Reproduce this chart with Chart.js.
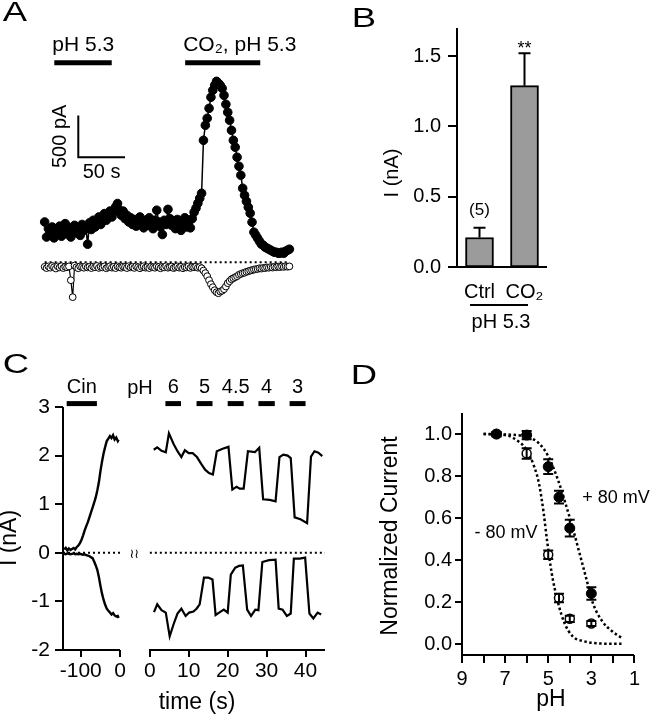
<!DOCTYPE html>
<html>
<head>
<meta charset="utf-8">
<script src="https://cdn.jsdelivr.net/npm/chart.js@4.4.1/dist/chart.umd.min.js"></script>
<style>
  body { margin: 0; background: #fff; width: 652px; height: 720px; position: relative; overflow: hidden;
         font-family: 'Liberation Sans', 'DejaVu Sans', Arial, sans-serif; color: #000; }
  canvas { position: absolute; }
  .t { position: absolute; white-space: nowrap; line-height: 1; }
  .rule { position: absolute; background: #000; z-index: 5; }
</style>
</head>
<body>
<canvas id="chartA" width="330" height="320" style="left:0;top:0"></canvas>
<canvas id="chartB" width="322" height="340" style="left:330px;top:0"></canvas>
<canvas id="chartCL" width="135" height="350" style="left:0;top:370px"></canvas>
<canvas id="chartCR" width="200" height="350" style="left:135px;top:370px"></canvas>
<canvas id="chartD" width="322" height="380" style="left:330px;top:340px"></canvas>
<div class="rule" style="left:470px;top:304px;width:58px;height:2px"></div>
<script>
// ---- panel A: current vs time (s), pA ----
const aTime = [0,2,4,6,8,10,12,14,16,18,20,22,24,26,28,30,32,34,36,38,
  40,42,44,46,48,50,52,54,56,58,60,62,64,66,68,70,72,74,76,78,
  80,82,84,86,88,90,92,94,96,98,100,102,104,106,108,110,112,114,116,118,
  120,122,124,126,128,130,132,134,136,138,140,142,144,146,148,150,152,154,156,158,
  160,162,164,166,168,170,172,174,176,178,180,182,184,186,188,190,192,194,196,198,
  200,202,204,206,208,210,212,214,216,218,220,222,224,226,228,230,232,234,236,238,
  240,242,244,246,248,250,252,254,256,258,260,262];
const aFilled = [480,300,400,330,420,290,380,350,430,310,390,460,340,410,300,370,440,350,400,320,
  450,380,420,215,470,390,500,420,470,540,450,520,580,500,560,610,540,600,660,700,
  620,560,610,520,560,480,530,450,510,430,490,540,460,410,500,440,530,470,400,500,
  620,480,420,330,500,450,630,520,440,490,400,510,460,380,480,530,420,470,410,520,
  596,644,703,763,822,1454,1633,1716,1835,1967,2050,2110,2157,2134,2110,2074,1990,1883,1788,1693,
  1573,1454,1371,1252,1144,1037,882,799,727,656,584,477,358,322,286,250,215,203,179,167,
  155,143,131,119,119,107,107,119,107,131,143,155];
const aOpen = [-55,-70,-50,-65,-45,-60,-75,-50,-62,-48,-70,-55,-60,-50,-215,-417,-40,-60,-72,-50,
  -58,-66,-48,-62,-55,-70,-52,-60,-45,-68,-55,-62,-50,-72,-58,-48,-65,-55,-70,-50,
  -60,-66,-52,-58,-70,-48,-62,-55,-68,-50,-60,-72,-55,-48,-65,-58,-70,-52,-60,-66,
  -50,-58,-72,-55,-62,-48,-66,-58,-52,-70,-60,-50,-65,-55,-72,-58,-62,-50,-68,-55,
  -60,-52,-66,-58,-72,-100,-130,-167,-215,-262,-298,-334,-358,-370,-350,-340,-322,-290,-250,-226,
  -203,-191,-179,-167,-150,-140,-131,-125,-115,-108,-100,-95,-88,-84,-80,-72,-76,-68,-70,-62,
  -66,-58,-64,-55,-60,-52,-58,-50,-56,-48,-54,-50];
const aStim = [[10.3, 71.8], [150.4, 230.8]];
const aStimLabels = ['pH 5.3', 'CO\u2082, pH 5.3'];
const aStimLevel = 2380;
const aScaleT = [36, 86];      // 50 s
const aScaleI = [1251, 1751];  // 500 pA

// ---- panel B: bar chart ----
const bCats = ['Ctrl', 'CO\u2082'];
const bPos = [1, 2];
const bVals = [0.21, 1.29];
const bErr = [0.07, 0.23];
const bNotes = ['(5)', '**'];
const bTicks = [0, 0.5, 1.0, 1.5];

// ---- panel C: current traces (nA) ----
const cLeftTime = [-142,-138,-134,-130,-126,-122,-118,-114,-110,-106,-102,-98,-94,-90,-86,-82,-78,-74,
  -70,-66,-62,-58,-54,-50,-46,-42,-38,-34,-30,-26,-22,-18,-14,-10,-6,-4];
const cLeftUp = [0.07,0.10,0.05,0.09,0.06,0.08,0.10,0.07,0.12,0.15,0.20,0.27,0.36,0.46,0.55,0.63,0.73,0.83,
  0.93,1.03,1.14,1.28,1.45,1.68,1.88,2.05,2.18,2.30,2.35,2.40,2.36,2.42,2.33,2.37,2.30,2.33];
const cLeftDown = [-0.02,-0.03,-0.01,-0.02,-0.03,-0.02,-0.01,-0.03,-0.02,-0.03,-0.02,-0.03,-0.04,-0.03,-0.05,-0.06,-0.07,-0.09,
  -0.11,-0.18,-0.26,-0.35,-0.50,-0.68,-0.84,-0.97,-1.07,-1.15,-1.19,-1.23,-1.27,-1.24,-1.29,-1.31,-1.30,-1.34];
const cRightUpTime = [1.0,1.9,3.0,4.1,4.9,6.1,7.1,8.1,9.0,10.0,11.0,12.1,13.2,14.2,15.2,16.2,17.2,18.7,20.2,21.2,
  22.3,23.1,24.1,25.2,27.0,28.1,29.1,30.8,32.3,33.3,34.3,35.4,36.2,37.2,38.7,40.4,41.4,42.3,43.3,44.3];
const cRightUp = [2.12,2.17,2.10,2.07,2.46,2.24,2.09,1.97,2.11,2.05,2.05,1.97,1.83,1.71,1.64,1.61,2.09,2.14,2.18,1.30,
  1.36,1.32,1.32,2.09,2.07,2.16,1.10,1.09,1.06,1.97,2.02,2.00,1.95,0.73,0.69,0.61,1.98,2.09,2.06,1.99];
const cRightDownTime = [1.07,1.9,3.0,4.1,5.1,6.1,7.1,8.1,9.2,10.1,11.2,12.0,12.8,13.9,15.0,16.1,16.9,18.0,19.0,20.0,
  20.8,21.9,22.9,23.9,25.0,26.0,27.1,27.9,28.9,30.6,32.3,33.1,34.1,35.2,36.2,37.0,38.5,39.9,41.0,42.0,43.1,44.0];
const cRightDown = [-1.22,-1.06,-1.18,-1.23,-1.72,-1.47,-1.25,-1.15,-1.30,-1.23,-1.21,-1.15,-1.06,-0.51,-0.51,-0.55,-1.28,-1.22,-1.17,-1.23,
  -0.45,-0.31,-0.27,-0.26,-1.17,-1.30,-1.17,-1.18,-0.19,-0.15,-0.14,-1.15,-1.17,-1.30,-1.25,-0.12,-0.12,-0.10,-1.25,-1.35,-1.23,-1.27];
const cCinStim = [-135.7, -59];
const cPHStim = [[4, 8], [12, 16.1], [20, 24.1], [27.9, 32.1], [35.9, 40]];
const cPHLabels = ['6', '5', '4.5', '4', '3'];
const cStimLevel = 3.07;
const cYTicks = [-2, -1, 0, 1, 2, 3];
const cLeftXTicks = [-100, 0];
const cRightXTicks = [0, 10, 20, 30, 40];

// ---- panel D: dose response ----
const dPH = [7.4, 6, 5, 4.5, 4, 3];
const dPos = [1.0, 0.995, 0.845, 0.70, 0.553, 0.242];
const dPosErr = [0.01, 0.02, 0.035, 0.03, 0.04, 0.03];
const dNeg = [1.0, 0.908, 0.426, 0.221, 0.122, 0.10];
const dNegErr = [0.01, 0.025, 0.02, 0.02, 0.015, 0.012];
const dFitPosPH = [8.0, 7.0, 6.0, 5.43, 4.99, 4.54, 4.25, 3.88, 3.51, 3.22, 2.93, 2.49, 2.04, 1.6];
const dFitPos = [1.0, 0.998, 0.987, 0.956, 0.893, 0.78, 0.687, 0.56, 0.419, 0.308, 0.197, 0.11, 0.063, 0.032];
const dFitNegPH = [8.0, 7.0, 6.6, 6.0, 5.65, 5.43, 5.21, 5.06, 4.84, 4.54, 4.25, 3.88, 3.37, 2.63, 1.6];
const dFitNeg = [1.0, 0.995, 0.98, 0.924, 0.845, 0.766, 0.624, 0.498, 0.34, 0.197, 0.103, 0.04, 0.016, 0.005, 0.003];
const dYTicks = [0, 0.2, 0.4, 0.6, 0.8, 1.0];
const dXTicks = [9, 8, 7, 6, 5, 4, 3, 2, 1];

const FONT = "'Liberation Sans', 'DejaVu Sans', Arial, sans-serif";
Chart.defaults.font.family = FONT;
Chart.defaults.color = '#000';
Chart.defaults.animation = false;
Chart.defaults.responsive = false;
Chart.defaults.devicePixelRatio = 1;
Chart.defaults.events = [];
Chart.defaults.plugins.legend.display = false;
Chart.defaults.plugins.tooltip.enabled = false;

const pts = (xs, ys) => xs.map((x, i) => ({x, y: ys[i]}));

// scale without built-in grid/border; the axis line and ticks are placed from the scales afterwards
function axis(o) {
  return {
    type: 'linear', min: o.min, max: o.max, reverse: !!o.reverse, display: o.display !== false, offset: false,
    border: {display: false},
    grid: {display: false, drawTicks: false},
    ticks: {font: {size: o.font || 20}, padding: o.pad || 3, maxRotation: 0, autoSkip: false,
            callback: o.fmt || (v => String(v))},
    afterBuildTicks: s => { if (o.ticks) s.ticks = o.ticks.map(v => ({value: v})); },
    afterFit: s => { if (o.w != null) s.width = o.w; if (o.h != null) s.height = o.h; }
  };
}

function line(data, extra) {
  return Object.assign({type: 'line', data, showLine: true, borderColor: '#000', borderWidth: 2, pointRadius: 0, clip: false}, extra);
}

function txt(s, cx, cy, size, rot, sx) {
  const d = document.createElement('div');
  d.className = 't';
  d.textContent = s;
  d.style.left = cx + 'px';
  d.style.top = cy + 'px';
  d.style.fontSize = size + 'px';
  let tf = 'translate(-50%,-50%)';
  if (rot) tf += ' rotate(' + rot + 'deg)';
  if (sx) tf += ' scaleX(' + sx + ')';
  d.style.transform = tf;
  document.body.appendChild(d);
}

// panel A
new Chart(document.getElementById('chartA'), {
  type: 'scatter',
  data: {
    datasets: [
      line(pts(aTime, aFilled), {borderWidth: 1.5, pointRadius: 4.3, pointBackgroundColor: '#000', pointBorderColor: '#000', pointBorderWidth: 1}),
      line(pts(aTime, aOpen), {borderWidth: 1.2, pointRadius: 3.4, pointBackgroundColor: '#fff', pointBorderColor: '#000', pointBorderWidth: 1}),
      line([{x: aTime[0], y: 0}, {x: aTime[aTime.length - 1], y: 0}], {borderDash: [2, 3]}),
      line([{x: aScaleT[0], y: aScaleI[1]}, {x: aScaleT[0], y: aScaleI[0]}, {x: aScaleT[1], y: aScaleI[0]}], {borderJoinStyle: 'miter'}),
      ...aStim.map(s => line([{x: s[0], y: aStimLevel}, {x: s[1], y: aStimLevel}], {borderWidth: 5, borderCapStyle: 'butt'}))
    ]
  },
  options: {
    layout: {padding: {left: 40, right: 35, top: 40, bottom: 10}},
    scales: {
      x: {type: 'linear', display: false, min: -5, max: 268},
      y: {type: 'linear', display: false, min: -570, max: 2650}
    }
  },
  plugins: [{
    id: 'aText',
    afterDatasetsDraw(chart) {
      const {ctx, scales: {x, y}} = chart;
      ctx.save();
      ctx.fillStyle = '#000';
      ctx.font = '21px ' + FONT;
      ctx.textAlign = 'left';
      aStim.forEach((s, i) => ctx.fillText(aStimLabels[i], x.getPixelForValue(s[0]) - 2, y.getPixelForValue(aStimLevel) - 12));
      const bx = x.getPixelForValue(aScaleT[0]);
      const by0 = y.getPixelForValue(aScaleI[0]), by1 = y.getPixelForValue(aScaleI[1]);
      ctx.font = '20px ' + FONT;
      ctx.textAlign = 'center';
      ctx.fillText('50 s', (bx + x.getPixelForValue(aScaleT[1])) / 2, by0 + 21);
      ctx.translate(bx - 12, (by0 + by1) / 2);
      ctx.rotate(-Math.PI / 2);
      ctx.fillText('500 pA', 0, 0);
      ctx.restore();
    }
  }]
});

// panel B
const chartB = new Chart(document.getElementById('chartB'), {
  type: 'bar',
  data: {
    datasets: [
      {data: pts(bPos, bVals), backgroundColor: '#9b9b9b', borderColor: '#000', borderWidth: 2, borderSkipped: false, barThickness: 28}
    ]
  },
  options: {
    layout: {padding: {left: 0, right: 105, top: 26, bottom: 0}},
    scales: {
      x: axis({min: 0.5, max: 2.5, ticks: bPos, pad: 13, h: 73, fmt: v => bCats[bPos.indexOf(v)] || ''}),
      y: axis({min: 0, max: 1.7, ticks: bTicks, pad: 16, w: 127, fmt: v => v.toFixed(1)})
    }
  },
  plugins: [{
    id: 'bErr',
    afterDatasetsDraw(chart) {
      const {ctx, scales: {y}} = chart;
      const meta = chart.getDatasetMeta(0);
      ctx.save();
      ctx.strokeStyle = '#000';
      ctx.fillStyle = '#000';
      ctx.lineWidth = 2;
      ctx.textAlign = 'center';
      bVals.forEach((v, i) => {
        const px = meta.data[i].x, top = y.getPixelForValue(v + bErr[i]), base = y.getPixelForValue(v);
        ctx.beginPath();
        ctx.moveTo(px, base); ctx.lineTo(px, top);
        ctx.moveTo(px - 6, top); ctx.lineTo(px + 6, top);
        ctx.stroke();
        ctx.font = (i === 0 ? 17 : 18) + 'px ' + FONT;
        ctx.fillText(bNotes[i], px, i === 0 ? top - 13 : top + 1);
      });
      ctx.restore();
    }
  }]
});

// panel C
const cOpts = (xmin, xmax, xticks, showY, padLeft) => ({
  layout: {padding: {left: padLeft, right: 10, top: 37, bottom: 0}},
  scales: {
    x: axis({min: xmin, max: xmax, ticks: xticks, pad: 9, font: 21, h: 70}),
    y: showY ? axis({min: -2, max: 3, ticks: cYTicks, pad: 13, font: 21, w: 63})
             : {type: 'linear', display: false, min: -2, max: 3}
  }
});
const stimText = (labels, spans) => ({
  id: 'stimText',
  afterDatasetsDraw(chart) {
    const {ctx, scales: {x, y}} = chart;
    ctx.save();
    ctx.fillStyle = '#000';
    ctx.font = '20px ' + FONT;
    ctx.textAlign = 'center';
    spans.forEach((s, i) => ctx.fillText(labels[i], x.getPixelForValue((s[0] + s[1]) / 2), y.getPixelForValue(cStimLevel) - 11));
    ctx.restore();
  }
});

const chartCL = new Chart(document.getElementById('chartCL'), {
  type: 'scatter',
  data: {
    datasets: [
      line(pts(cLeftTime, cLeftUp), {borderWidth: 2.4}),
      line(pts(cLeftTime, cLeftDown), {borderWidth: 2.4}),
      line([{x: -145, y: 0}, {x: 0, y: 0}], {borderDash: [2, 3]}),
      line([{x: cCinStim[0], y: cStimLevel}, {x: cCinStim[1], y: cStimLevel}], {borderWidth: 5, borderCapStyle: 'butt'})
    ]
  },
  options: cOpts(-145, 0, cLeftXTicks, true, 0),
  plugins: [stimText(['Cin'], [cCinStim])]
});

const chartCR = new Chart(document.getElementById('chartCR'), {
  type: 'scatter',
  data: {
    datasets: [
      line(pts(cRightUpTime, cRightUp), {borderWidth: 2.2}),
      line(pts(cRightDownTime, cRightDown), {borderWidth: 2.2}),
      line([{x: 0, y: 0}, {x: 45, y: 0}], {borderDash: [2, 3]}),
      ...cPHStim.map(s => line([{x: s[0], y: cStimLevel}, {x: s[1], y: cStimLevel}], {borderWidth: 5, borderCapStyle: 'butt'}))
    ]
  },
  options: cOpts(0, 45, cRightXTicks, false, 8),
  plugins: [stimText(cPHLabels, cPHStim)]
});

// panel D
const chartD = new Chart(document.getElementById('chartD'), {
  type: 'scatter',
  data: {
    datasets: [
      {data: pts(dPH, dPos), pointRadius: 5, pointBackgroundColor: '#000', pointBorderColor: '#000', pointBorderWidth: 1, clip: false},
      {data: pts(dPH, dNeg), pointRadius: 4.5, pointBackgroundColor: '#fff', pointBorderColor: '#000', pointBorderWidth: 1.5, clip: false},
      line(pts(dFitPosPH, dFitPos), {borderWidth: 2.5, borderDash: [2.5, 2.5], cubicInterpolationMode: 'monotone'}),
      line(pts(dFitNegPH, dFitNeg), {borderWidth: 2.5, borderDash: [2.5, 2.5], cubicInterpolationMode: 'monotone'})
    ]
  },
  options: {
    layout: {padding: {left: 0, right: 9, top: 73, bottom: 0}},
    scales: {
      x: axis({min: 1, max: 9, reverse: true, ticks: dXTicks, pad: 12, h: 65, fmt: v => (v % 2 === 1 ? String(v) : '')}),
      y: axis({min: -0.05, max: 1.1, ticks: dYTicks, pad: 10, w: 132, fmt: v => v.toFixed(1)})
    }
  },
  plugins: [{
    id: 'dErr',
    afterDatasetsDraw(chart) {
      const {ctx, scales: {x, y}} = chart;
      ctx.save();
      ctx.strokeStyle = '#000';
      ctx.lineWidth = 2;
      [[dPos, dPosErr], [dNeg, dNegErr]].forEach(([m, e]) => dPH.forEach((p, i) => {
        const px = x.getPixelForValue(p), y1 = y.getPixelForValue(m[i] - e[i]), y2 = y.getPixelForValue(m[i] + e[i]);
        ctx.beginPath();
        ctx.moveTo(px, y1); ctx.lineTo(px, y2);
        ctx.moveTo(px - 5, y1); ctx.lineTo(px + 5, y1);
        ctx.moveTo(px - 5, y2); ctx.lineTo(px + 5, y2);
        ctx.stroke();
      }));
      ctx.restore();
    }
  }]
});

// axis lines and outward ticks: thin black boxes placed from each chart's own scales
// [chart, x range (value at y axis first), y range (value at x axis first), x ticks, x tick len, y ticks, y tick len]
const axesSpec = [
  [chartB, [0.5, 2.5], [0, 1.7], null, 0, bTicks, 9],
  [chartCL, [-145, 0], [-2, 3], cLeftXTicks, 7, cYTicks, 8],
  [chartCR, [0, 45], [-2, 3], cRightXTicks, 7, null, 0],
  [chartD, [9, 1], [-0.05, 1.1], dXTicks, 8, dYTicks, 7]
];
function box(l, t, w, h) {
  const d = document.createElement('div');
  d.className = 'rule';
  d.style.left = Math.round(l) + 'px';
  d.style.top = Math.round(t) + 'px';
  d.style.width = Math.round(w) + 'px';
  d.style.height = Math.round(h) + 'px';
  document.body.appendChild(d);
}
axesSpec.forEach(([ch, xr, yr, xt, xl, yt, yl]) => {
  const ox = parseFloat(ch.canvas.style.left) || 0, oy = parseFloat(ch.canvas.style.top) || 0;
  const X = v => ox + ch.scales.x.getPixelForValue(v);
  const Y = v => oy + ch.scales.y.getPixelForValue(v);
  const x0 = X(xr[0]), x1 = X(xr[1]), y0 = Y(yr[0]), y1 = Y(yr[1]);
  box(Math.min(x0, x1) - 1, y0 - 1, Math.abs(x1 - x0) + 1, 2);
  (xt || []).forEach(v => box(X(v) - 1, y0, 2, xl));
  if (yt) {
    box(x0 - 1, y1, 2, y0 - y1 + 1);
    yt.forEach(v => box(x0 - yl, Y(v) - 1, yl, 2));
  }
});

// panel letters and free text
txt('A', 14.5, 11.5, 27, 0, 1.35);
txt('B', 363.5, 18, 27, 0, 1.35);
txt('C', 15.5, 364, 27, 0, 1.35);
txt('D', 363.5, 375, 27, 0, 1.35);
txt('I (nA)', 391, 173, 20, -90);
txt('pH 5.3', 501, 321, 20);
txt('I (nA)', 8, 538, 23, -90);
txt('pH', 140, 387, 20);
txt('\u2240\u2240', 134, 553, 13);
txt('time (s)', 197, 701, 23);
txt('Normalized Current', 389, 536, 23, -90);
txt('pH', 551, 698, 23);
txt('+ 80 mV', 616, 497, 18);
txt('- 80 mV', 506, 532, 18);
</script>
</body>
</html>
